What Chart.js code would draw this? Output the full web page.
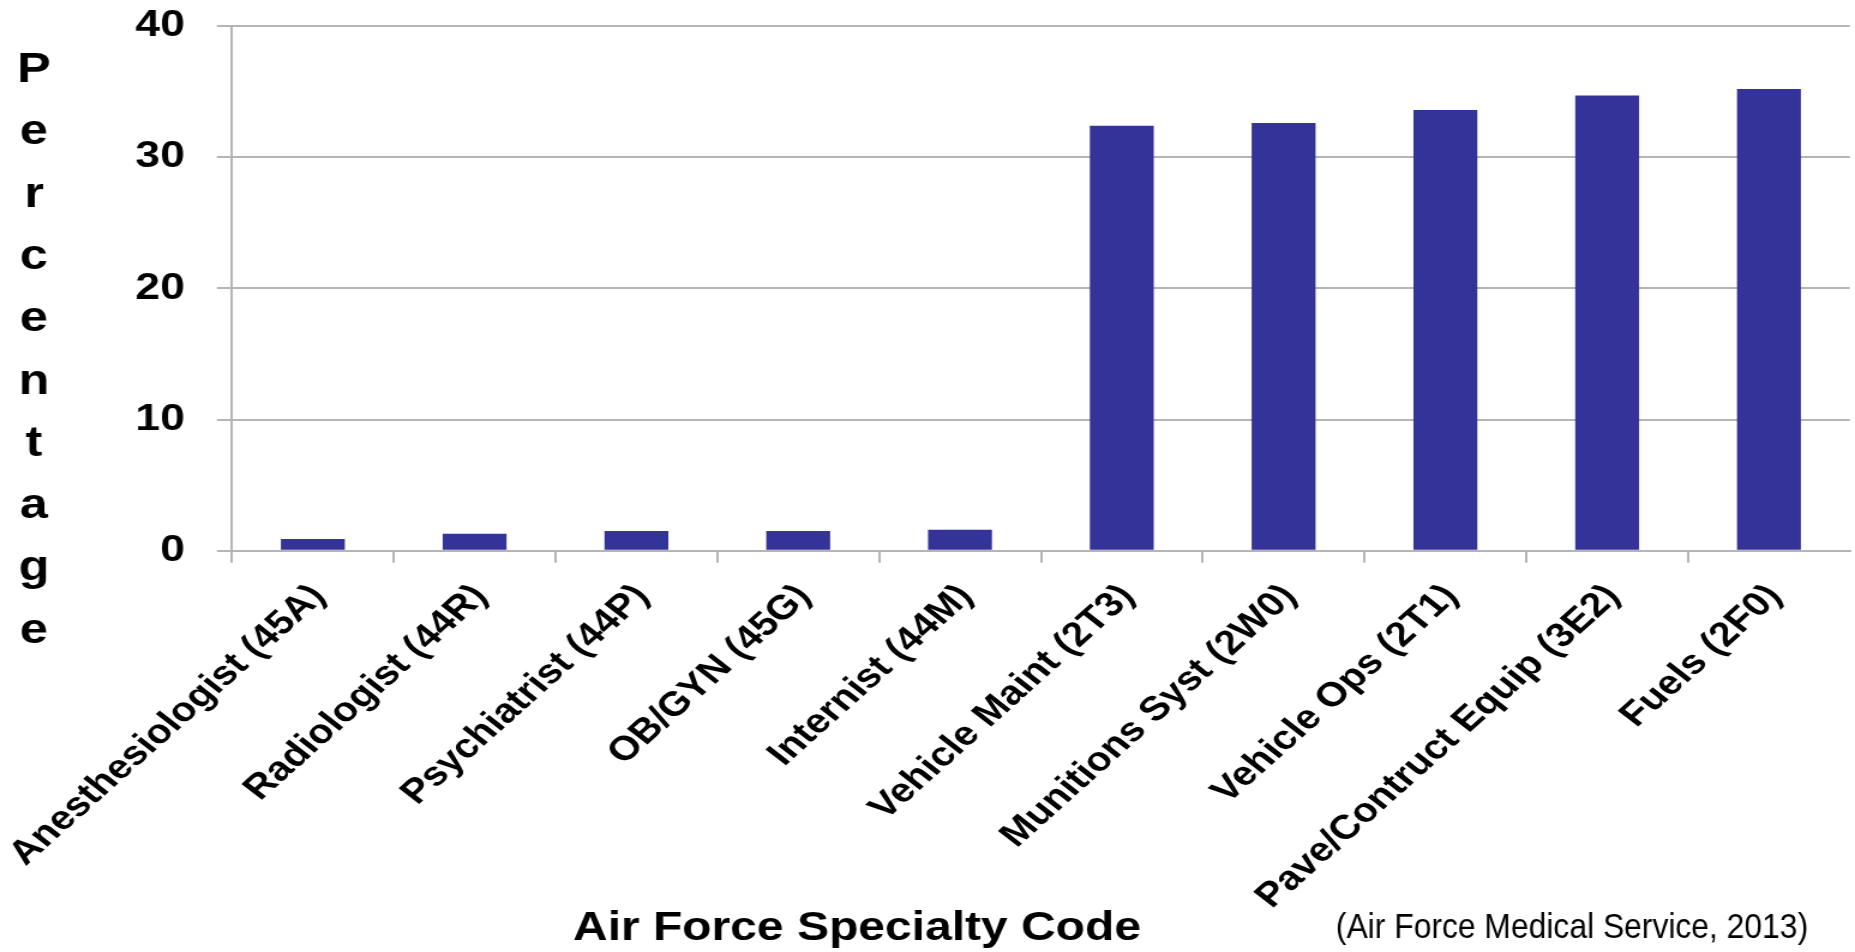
<!DOCTYPE html>
<html>
<head>
<meta charset="utf-8">
<script src="https://cdn.jsdelivr.net/npm/chart.js@4/dist/chart.umd.min.js"></script>
<style>
  html, body { margin: 0; padding: 0; background: #ffffff; overflow: hidden; }
  /* the slide artwork is widened horizontally, so the canvas is stretched the same way */
  #wrap { width: 1546px; height: 952px; transform: scaleX(1.19987); transform-origin: 0 0; }
  canvas { display: block; }
</style>
</head>
<body>
<div id="wrap"><canvas id="chart" width="1546" height="952"></canvas></div>
<script>
// Share of personnel by Air Force Specialty Code (percent)
const categories = [
  'Anesthesiologist (45A)',
  'Radiologist (44R)',
  'Psychiatrist (44P)',
  'OB/GYN (45G)',
  'Internist (44M)',
  'Vehicle Maint (2T3)',
  'Munitions Syst (2W0)',
  'Vehicle Ops (2T1)',
  'Pave/Contruct Equip (3E2)',
  'Fuels (2F0)'
];
const percentages = [0.9, 1.3, 1.5, 1.5, 1.6, 32.4, 32.6, 33.6, 34.7, 35.2];
const yMin = 0;
const yMax = 40;
const yStep = 10;
const yAxisTitle = 'Percentage';
const xAxisTitle = 'Air Force Specialty Code';
const sourceNote = '(Air Force Medical Service, 2013)';

const FONT = '"Liberation Sans", Arial, Helvetica, sans-serif';
const GRID = '#b5b5b5';

// Stacked vertical axis title, horizontal axis title and the source line
const axisTextPlugin = {
  id: 'axisText',
  afterDraw(chart) {
    const ctx = chart.ctx;
    ctx.save();
    ctx.fillStyle = '#000000';
    ctx.textBaseline = 'alphabetic';

    ctx.font = 'bold 42px ' + FONT;
    ctx.textAlign = 'center';
    Array.from(yAxisTitle).forEach((ch, i) => {
      ctx.fillText(ch, 28.3, 82 + i * 62.3);
    });

    ctx.font = 'bold 40px ' + FONT;
    ctx.textAlign = 'left';
    ctx.fillText(xAxisTitle, 477.5, 940);

    ctx.translate(1113.3, 938);
    ctx.scale(0.758, 1);
    ctx.font = '35px ' + FONT;
    ctx.fillText(sourceNote, 0, 0);
    ctx.restore();
  }
};

new Chart(document.getElementById('chart'), {
  type: 'bar',
  data: {
    labels: categories,
    datasets: [{
      data: percentages,
      backgroundColor: '#333399',
      borderWidth: 0,
      categoryPercentage: 1,
      barPercentage: 0.395
    }]
  },
  options: {
    responsive: false,
    animation: false,
    devicePixelRatio: 1,
    layout: { padding: { top: 26, left: 0, right: 4.3, bottom: 0 } },
    plugins: {
      legend: { display: false },
      tooltip: { enabled: false },
      title: { display: false }
    },
    scales: {
      x: {
        grid: {
          display: true,
          drawOnChartArea: false,
          drawTicks: true,
          tickLength: 12,
          // tick marks between categories; none after the last one
          color: (c) => (c.type === 'tick' ? GRID : 'rgba(0,0,0,0)'),
          lineWidth: 2,
          offset: true
        },
        border: { display: true, color: GRID, width: 2 },
        ticks: {
          autoSkip: false,
          minRotation: 47,
          maxRotation: 47,
          padding: 14,
          labelOffset: 5,
          color: '#000000',
          font: { family: FONT, size: 34, weight: 'bold' }
        },
        afterFit(scale) {
          scale.height = 952 - 550.7;
          scale.paddingLeft = 0;
          scale.paddingRight = 0;
        }
      },
      y: {
        min: yMin,
        max: yMax,
        ticks: {
          stepSize: yStep,
          padding: 26.8,
          color: '#000000',
          font: { family: FONT, size: 37, weight: 'bold' }
        },
        grid: { color: GRID, lineWidth: 2, tickLength: 12.5 },
        border: { display: true, color: GRID, width: 2 },
        afterFit(scale) {
          scale.width = 193.3;
          scale.paddingTop = 0;
          scale.paddingBottom = 0;
        }
      }
    }
  },
  plugins: [axisTextPlugin]
});
</script>
</body>
</html>
